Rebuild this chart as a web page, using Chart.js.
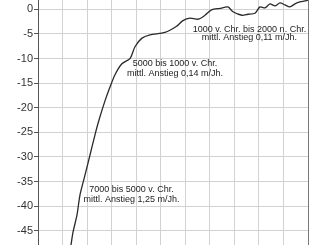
<!DOCTYPE html>
<html>
<head>
<meta charset="utf-8">
<script src="https://cdn.jsdelivr.net/npm/chart.js@4"></script>
<style>
    html, body { margin: 0; padding: 0; background: #fff; }
    #wrap { width: 326px; height: 245px; }
</style>
</head>
<body>
<div id="wrap"><canvas id="chart"></canvas></div>
<script>
// years (negative = v. Chr.) and sea level in m
const years = [-7656, -7574, -7411, -7289, -7086, -6882, -6678, -6515, -6271, -6067,
    -5864, -5591, -5253, -5049, -4776, -4438, -3827, -3370, -3094, -2809,
    -2470, -2198, -1930, -1587, -1261, -1058, -691, -447, -162, 42,
    246, 449, 653, 857, 1060, 1264, 1468, 1671, 1875, 2000];
const seaLevel = [-47.9, -45.3, -41.8, -37.7, -33.7, -29.6, -25.5, -22.5, -18.6, -15.8,
    -13.3, -11.1, -10.0, -7.6, -5.9, -5.2, -4.7, -3.5, -2.3, -1.8,
    -2.0, -1.2, -0.1, 0.2, 0.5, -0.5, -1.2, -1.0, -0.8, 0.5,
    0.3, 1.1, 0.7, 1.3, 0.9, 0.5, 1.1, 1.5, 1.7, 1.9];

const yTicks = [0, -5, -10, -15, -20, -25, -30, -35, -40, -45];
const xTicks = [-9000, -8000, -7000, -6000, -5000, -4000, -3000, -2000, -1000, 0, 1000, 2000];

// text labels: centre year, and level of each line
const notes = [
    { x: -386, y: [-4.0, -5.8], lines: ['1000 v. Chr. bis 2000 n. Chr.', 'mittl. Anstieg 0,11 m/Jh.'] },
    { x: -3420, y: [-11.1, -13.1], lines: ['5000 bis 1000 v. Chr.', 'mittl. Anstieg 0,14 m/Jh.'] },
    { x: -5192, y: [-36.6, -38.7], lines: ['7000 bis 5000 v. Chr.', 'mittl. Anstieg 1,25 m/Jh.'] }
];

const notesPlugin = {
    id: 'notes',
    afterDatasetsDraw(chart) {
        const { ctx, scales } = chart;
        ctx.save();
        ctx.fillStyle = '#222';
        ctx.font = '9px "Liberation Sans", Arial, sans-serif';
        ctx.textAlign = 'center';
        ctx.textBaseline = 'middle';
        notes.forEach(n => {
            const px = scales.x.getPixelForValue(n.x);
            n.lines.forEach((t, i) => {
                ctx.fillText(t, px, scales.y.getPixelForValue(n.y[i]));
            });
        });
        ctx.restore();
    }
};

new Chart(document.getElementById('chart'), {
    type: 'line',
    data: {
        datasets: [{
            data: years.map((y, i) => ({ x: y, y: seaLevel[i] })),
            borderColor: '#2a2a2a',
            borderWidth: 1.3,
            pointRadius: 0,
            tension: 0.25,
            fill: false
        }]
    },
    options: {
        responsive: true,
        maintainAspectRatio: false,
        animation: false,
        layout: { padding: { left: 0, right: 18, top: 0, bottom: 0 } },
        plugins: { legend: { display: false }, tooltip: { enabled: false } },
        scales: {
            x: {
                type: 'linear',
                min: -9000,
                max: 2000,
                afterBuildTicks: axis => { axis.ticks = xTicks.map(v => ({ value: v })); },
                afterFit: axis => { axis.height = 0; axis.paddingLeft = 0; axis.paddingRight = 0; },
                ticks: { display: false },
                border: { display: false },
                grid: {
                    drawTicks: false,
                    lineWidth: 1,
                    color: c => (c.tick && c.tick.value === 2000) ? '#777' : '#d2d2d2'
                }
            },
            y: {
                type: 'linear',
                min: -47.9,
                max: 1.9,
                afterBuildTicks: axis => { axis.ticks = yTicks.map(v => ({ value: v })); },
                afterFit: axis => { axis.width = 38; axis.paddingTop = 0; axis.paddingBottom = 0; },
                ticks: {
                    padding: 1,
                    color: '#333',
                    font: { family: '"Liberation Sans", Arial, sans-serif', size: 11 }
                },
                border: { display: true, color: '#555', width: 1 },
                grid: { color: '#d2d2d2', tickColor: '#555', tickLength: 4 }
            }
        }
    },
    plugins: [notesPlugin]
});
</script>
</body>
</html>
